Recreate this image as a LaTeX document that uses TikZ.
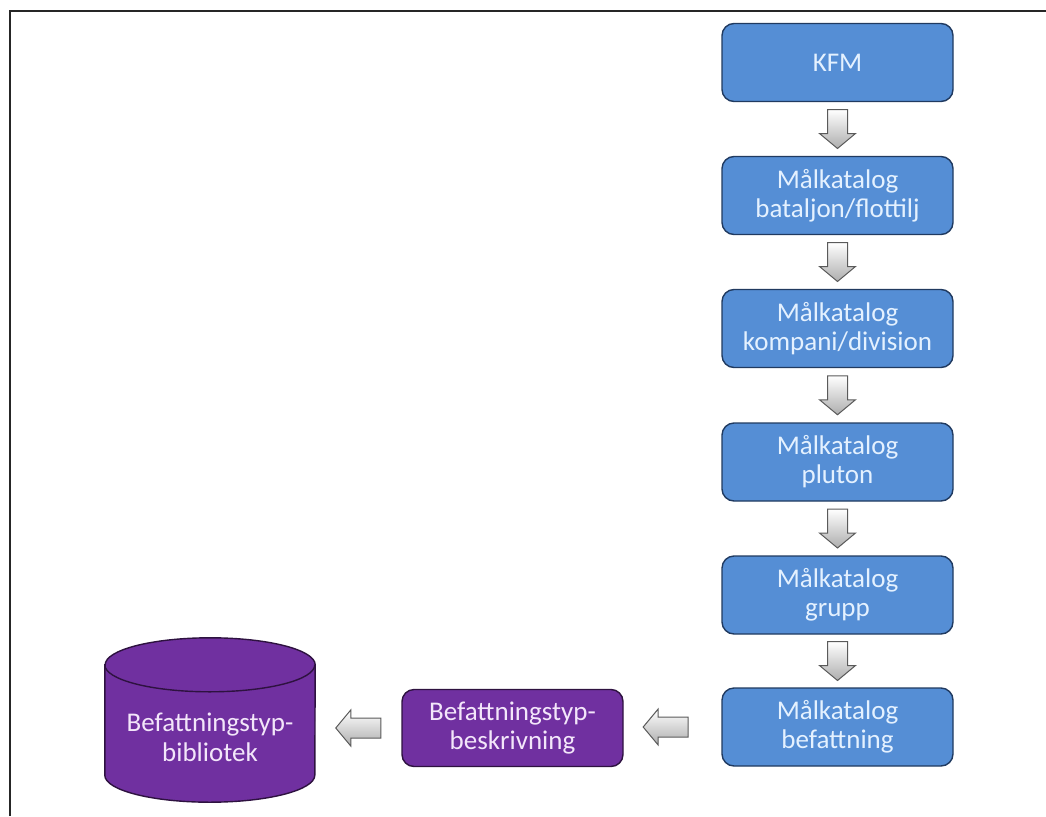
\documentclass[tikz,border=0pt]{standalone}
\usepackage{fontspec}
\setmainfont{Carlito}
\usetikzlibrary{calc}
\definecolor{boxblue}{HTML}{558ED5}
\definecolor{boxblueline}{HTML}{203A60}
\definecolor{boxbluetext}{HTML}{E4F1FF}
\definecolor{boxpurple}{HTML}{7030A0}
\definecolor{boxpurpleline}{HTML}{2E1240}
\definecolor{boxpurpletext}{HTML}{F3E6FA}
\definecolor{arrowline}{HTML}{5A5A5A}
\tikzset{
  bluebox/.style={draw=boxblueline, line width=1.4pt, fill=boxblue, rounded corners=12pt,
    minimum width=231pt, minimum height=78pt, align=center, text=boxbluetext,
    font=\fontsize{27}{29}\selectfont, inner sep=0pt},
  purplebox/.style={draw=boxpurpleline, line width=1.4pt, fill=boxpurple, rounded corners=12pt,
    minimum width=221pt, minimum height=77pt, align=center, text=boxpurpletext,
    font=\fontsize{27}{29}\selectfont, inner sep=0pt},
  cyltext/.style={align=center, text=boxpurpletext, font=\fontsize{27}{30}\selectfont, inner sep=0pt},
  blockarr/.style={draw=arrowline, line width=1pt, line join=miter, top color=white, bottom color=black!32},
  pics/downblock/.style={code={
    \path[blockarr] (-10,19.5) -- (10,19.5) -- (10,-4.5) -- (18,-4.5) -- (0,-19.5)
      -- (-18,-4.5) -- (-10,-4.5) -- cycle;}},
  pics/leftblock/.style={code={
    \path[blockarr] (22.5,10) -- (-7.5,10) -- (-7.5,18) -- (-22.5,0) -- (-7.5,-18)
      -- (-7.5,-10) -- (22.5,-10) -- cycle;}},
}
\begin{document}
\begin{tikzpicture}[x=1pt,y=1pt]
\useasboundingbox (0,0) rectangle (1046,-816);
\draw[line width=1.8pt, black!85] (10,-816) -- (10,-11) -- (1046,-11);

\node[bluebox] (kfm) at (837.5,-62.5) {KFM};
\node[bluebox] (mk1) at (837.5,-195.5) {Målkatalog\\bataljon/flottilj};
\node[bluebox] (mk2) at (837.5,-328.5) {Målkatalog\\kompani/division};
\node[bluebox] (mk3) at (837.5,-462) {Målkatalog\\pluton};
\node[bluebox] (mk4) at (837.5,-595) {Målkatalog\\grupp};
\node[bluebox] (mk5) at (837.5,-727) {Målkatalog\\befattning};
\node[purplebox] (besk) at (512.5,-728) {Befattningstyp-\\beskrivning};

\node[minimum width=210pt, minimum height=164pt, inner sep=0pt] (libbody) at (210,-720) {};
\path[fill=boxpurple, draw=boxpurpleline, line width=1.4pt]
  ([yshift=-27pt]libbody.north west) -- ([yshift=27pt]libbody.south west)
  arc[start angle=180, end angle=360, x radius=105pt, y radius=27pt]
  -- ([yshift=-27pt]libbody.north east)
  arc[start angle=0, end angle=180, x radius=105pt, y radius=27pt] -- cycle;
\draw[boxpurpleline, line width=1.4pt] ([yshift=-27pt]libbody.north west)
  arc[start angle=180, end angle=360, x radius=105pt, y radius=27pt];
\node[cyltext] (lib) at (210,-737) {Befattningstyp-\\bibliotek};

\coordinate (a1) at ($(kfm.south)!0.5!(mk1.north)$);
\coordinate (a2) at ($(mk1.south)!0.5!(mk2.north)$);
\coordinate (a3) at ($(mk2.south)!0.5!(mk3.north)$);
\coordinate (a4) at ($(mk3.south)!0.5!(mk4.north)$);
\coordinate (a5) at ($(mk4.south)!0.5!(mk5.north)$);
\coordinate (a6) at ($(mk5.west)!0.57!(mk5.west -| besk.east)$);
\coordinate (a7) at ($(besk.west)!0.5!(besk.west -| libbody.east)$);
\pic at (a1) {downblock};
\pic at (a2) {downblock};
\pic at (a3) {downblock};
\pic at (a4) {downblock};
\pic at (a5) {downblock};
\pic at (a6) {leftblock};
\pic at (a7) {leftblock};
\end{tikzpicture}
\end{document}
